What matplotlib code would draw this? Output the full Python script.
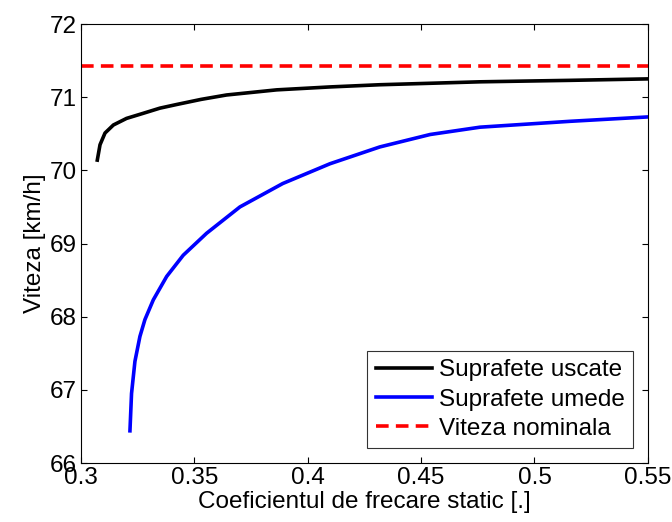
import matplotlib
matplotlib.use("Agg")
import matplotlib.pyplot as plt

# Data
mu_dry = [0.3072, 0.3084, 0.3106, 0.3143, 0.3201, 0.3275, 0.3348, 0.3422,
          0.3530, 0.3642, 0.3863, 0.4098, 0.4318, 0.454, 0.476, 0.5156, 0.55]
v_dry = [70.14, 70.35, 70.51, 70.62, 70.71, 70.78, 70.85, 70.90,
         70.97, 71.03, 71.10, 71.14, 71.17, 71.19, 71.21, 71.23, 71.25]

mu_wet = [0.3216, 0.3223, 0.3238, 0.326, 0.3282, 0.3319, 0.3378, 0.3451,
          0.3554, 0.3701, 0.3890, 0.4098, 0.4318, 0.454, 0.476, 0.5156, 0.55]
v_wet = [66.44, 66.95, 67.39, 67.73, 67.96, 68.23, 68.55, 68.84,
         69.14, 69.50, 69.82, 70.09, 70.32, 70.49, 70.59, 70.67, 70.73]

v_nominal = 71.42

labels = ["Suprafete uscate", "Suprafete umede", "Viteza nominala"]
xticks = [0.3, 0.35, 0.4, 0.45, 0.5, 0.55]
xticklabels = ["0.3", "0.35", "0.4", "0.45", "0.5", "0.55"]
yticks = [66, 67, 68, 69, 70, 71, 72]

plt.rcParams['font.family'] = ['Liberation Sans', 'DejaVu Sans']
FS = 17.5

fig = plt.figure(figsize=(6.72, 5.22), dpi=100)
ax = fig.add_axes([0.1205, 0.113, 0.8435, 0.841])

ax.plot(mu_dry, v_dry, color='black', lw=2.6, label=labels[0])
ax.plot(mu_wet, v_wet, color='#0000ff', lw=2.6, label=labels[1])
ax.axhline(v_nominal, color='#ff0000', lw=2.6, ls=(0, (3.5, 2)), label=labels[2])

ax.set_xlim(0.3, 0.55)
ax.set_ylim(66, 72)
ax.set_xticks(xticks)
ax.set_xticklabels(xticklabels)
ax.set_yticks(yticks)
ax.tick_params(direction='in', top=True, right=True, length=4.5, width=0.8,
               labelsize=FS, pad=3)
for s in ax.spines.values():
    s.set_linewidth(0.8)

ax.set_xlabel("Coeficientul de frecare static [.]", fontsize=FS, labelpad=1)
ax.set_ylabel("Viteza [km/h]", fontsize=FS, labelpad=3)

leg = ax.legend(loc='lower right', fontsize=FS, frameon=True, fancybox=False,
                edgecolor='black', handlelength=2.3, handletextpad=0.3,
                borderpad=0.35, labelspacing=0.3, borderaxespad=0.6)
leg.get_frame().set_linewidth(0.8)

fig.savefig("out.png", dpi=100)
